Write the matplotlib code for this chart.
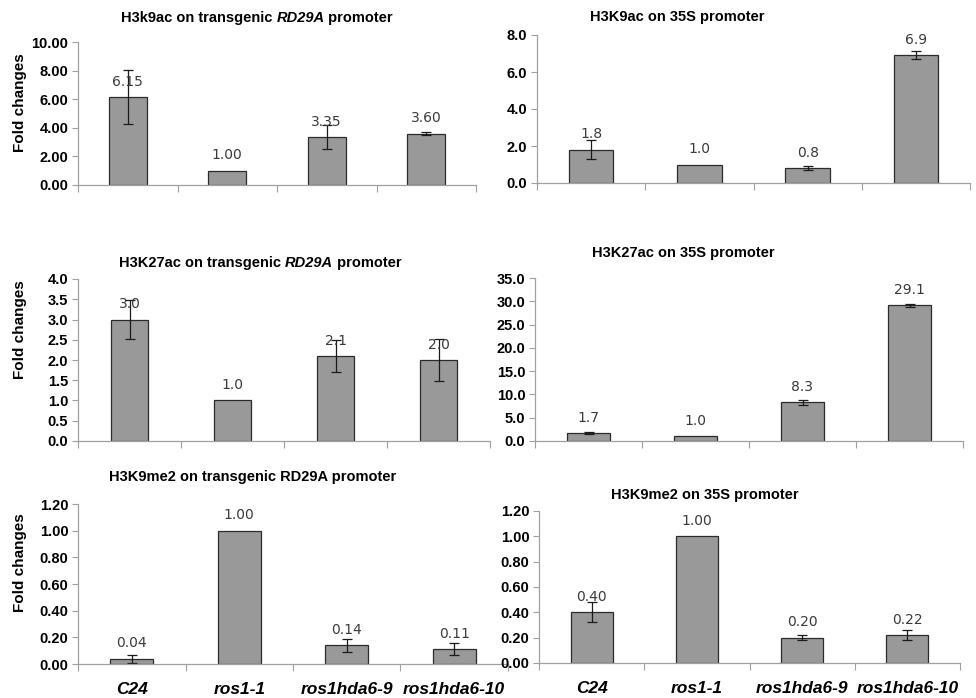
import matplotlib.pyplot as plt
import numpy as np

plt.rcParams['font.family'] = ['Liberation Sans', 'DejaVu Sans']

genotypes = ['C24', 'ros1-1', 'ros1hda6-9', 'ros1hda6-10']

# fold changes and standard errors per panel (ros1-1 is the reference, no error)
h3k9ac_rd29a = [6.15, 1.00, 3.35, 3.60]
h3k9ac_rd29a_err = [1.90, 0.0, 0.85, 0.12]
h3k9ac_35s = [1.8, 1.0, 0.8, 6.9]
h3k9ac_35s_err = [0.5, 0.0, 0.1, 0.22]
h3k27ac_rd29a = [3.0, 1.0, 2.1, 2.0]
h3k27ac_rd29a_err = [0.47, 0.0, 0.4, 0.52]
h3k27ac_35s = [1.7, 1.0, 8.3, 29.1]
h3k27ac_35s_err = [0.15, 0.0, 0.5, 0.3]
h3k9me2_rd29a = [0.04, 1.00, 0.14, 0.11]
h3k9me2_rd29a_err = [0.03, 0.0, 0.05, 0.045]
h3k9me2_35s = [0.40, 1.00, 0.20, 0.22]
h3k9me2_35s_err = [0.08, 0.0, 0.02, 0.04]

W, H = 976, 698
fig = plt.figure(figsize=(W / 100, H / 100), dpi=100)


def px_axes(left, top, right, bottom):
    return fig.add_axes([left / W, 1 - bottom / H, (right - left) / W, (bottom - top) / H])


def panel(ax, vals, errs, ymax, step, fmt, width, show_x=False):
    x = np.arange(len(vals)) + 0.5
    ax.bar(x, vals, width=width, color='#999999', edgecolor='#2b2b2b', linewidth=0.9)
    has_err = [i for i, e in enumerate(errs) if e > 0]
    ax.errorbar(x[has_err], [vals[i] for i in has_err], yerr=[errs[i] for i in has_err],
                fmt='none', ecolor='#1a1a1a', elinewidth=0.9, capsize=3.5, capthick=0.9)
    for xi, v in zip(x, vals):
        ax.annotate(format(v, fmt), (xi, v), xytext=(0, 6), textcoords='offset points',
                    ha='center', va='bottom', fontsize=10, color='#3a3a3a',
                    family='DejaVu Sans')
    ax.set_xlim(0, len(vals))
    ax.set_ylim(0, ymax)
    ax.set_yticks(np.arange(0, ymax + step / 2, step))
    ax.set_yticklabels([format(t, fmt) for t in ax.get_yticks()],
                       fontsize=10.5, fontweight='bold')
    ax.set_xticks(np.arange(len(vals) + 1))
    ax.set_xticklabels([])
    ax.set_xticks(x, minor=True)
    if show_x:
        ax.set_xticklabels(genotypes, minor=True, fontsize=12.5, fontweight='bold',
                           fontstyle='italic')
    ax.tick_params(axis='x', which='minor', length=0, pad=13)
    ax.tick_params(axis='x', which='major', length=5, color='#a0a0a0', width=0.8)
    ax.tick_params(axis='y', length=4, color='#a0a0a0', width=0.8, pad=3)
    for s in ('top', 'right'):
        ax.spines[s].set_visible(False)
    for s in ('left', 'bottom'):
        ax.spines[s].set_color('#a0a0a0')
        ax.spines[s].set_linewidth(0.9)


ax1 = px_axes(78, 42, 476, 185)
panel(ax1, h3k9ac_rd29a, h3k9ac_rd29a_err, 10, 2, '.2f', 0.38)
ax2 = px_axes(537, 35, 970, 183)
panel(ax2, h3k9ac_35s, h3k9ac_35s_err, 8, 2, '.1f', 0.41)
ax3 = px_axes(78, 279, 490, 441)
panel(ax3, h3k27ac_rd29a, h3k27ac_rd29a_err, 4, 0.5, '.1f', 0.36)
ax4 = px_axes(535, 278, 963, 441)
panel(ax4, h3k27ac_35s, h3k27ac_35s_err, 35, 5, '.1f', 0.40)
ax5 = px_axes(78, 504, 508, 664)
panel(ax5, h3k9me2_rd29a, h3k9me2_rd29a_err, 1.2, 0.2, '.2f', 0.40, show_x=True)
ax6 = px_axes(539, 511, 960, 663)
panel(ax6, h3k9me2_35s, h3k9me2_35s_err, 1.2, 0.2, '.2f', 0.40, show_x=True)


def title(x, y, parts):
    # parts: list of (text, italic) pieces laid out left to right, centred on x
    texts = []
    for t, it in parts:
        texts.append(fig.text(0, 1 - y / H, t, fontsize=10.5, fontweight='bold',
                              fontstyle='italic' if it else 'normal', va='center'))
    fig.canvas.draw()
    r = fig.canvas.get_renderer()
    widths = [tx.get_window_extent(r).width for tx in texts]
    pos = x - sum(widths) / 2
    for tx, w in zip(texts, widths):
        tx.set_x(pos / W)
        pos += w


title(257, 18, [('H3k9ac on transgenic ', False), ('RD29A', True), (' promoter', False)])
title(677, 17, [('H3K9ac on 35S promoter', False)])
title(260, 263, [('H3K27ac on transgenic ', False), ('RD29A', True), (' promoter', False)])
title(683, 253, [('H3K27ac on 35S promoter', False)])
title(253, 477, [('H3K9me2 on transgenic RD29A promoter', False)])
title(705, 495, [('H3K9me2 on 35S promoter', False)])

for yc in (103, 330, 563):
    fig.text(20 / W, 1 - yc / H, 'Fold changes', rotation=90, fontsize=11,
             fontweight='bold', ha='center', va='center')

fig.savefig('out.png', dpi=100)
